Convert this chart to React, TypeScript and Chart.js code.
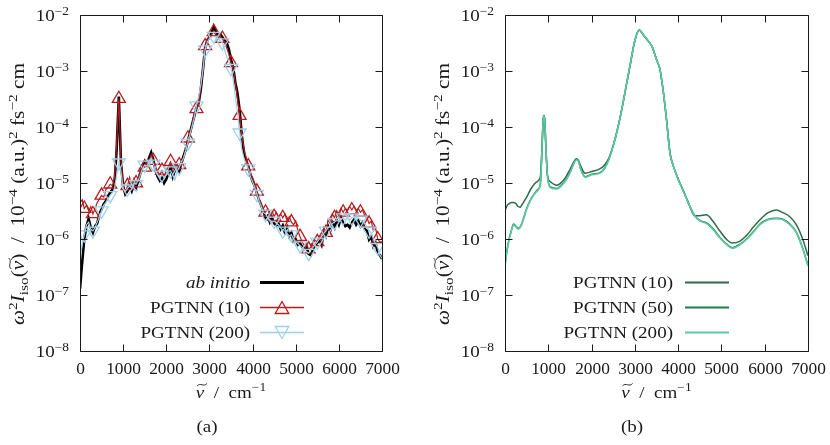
import React, { useEffect, useRef } from "react";
import { Chart, registerables } from "chart.js";

Chart.register(...registerables);

const FONT = '"Liberation Serif", "DejaVu Serif", serif';
const TEXT = "#1a1a1a";
const RED = "#b71c1c";
const BLUE = "#9fd0e8";
const G10 = "#2d6b4a";
const G50 = "#237a4c";
const G200 = "#5ccaa2";

// ---------- data: panel (a) ----------
const LX = [
  0, 50, 100, 150, 200, 250, 300, 350, 400, 450,
  500, 550, 600, 650, 700, 750, 800, 850, 900, 950,
  1000, 1050, 1100, 1150, 1200, 1250, 1300, 1350, 1400, 1450,
  1500, 1550, 1600, 1650, 1700, 1750, 1800, 1850, 1900, 1950,
  2000, 2050, 2100, 2150, 2200, 2250, 2300, 2350, 2400, 2450,
  2500, 2550, 2600, 2650, 2700, 2750, 2800, 2850, 2900, 2950,
  3000, 3050, 3100, 3150, 3200, 3250, 3300, 3350, 3400, 3450,
  3500, 3550, 3600, 3650, 3700, 3750, 3800, 3850, 3900, 3950,
  4000, 4050, 4100, 4150, 4200, 4250, 4300, 4350, 4400, 4450,
  4500, 4550, 4600, 4650, 4700, 4750, 4800, 4850, 4900, 4950,
  5000, 5050, 5100, 5150, 5200, 5250, 5300, 5350, 5400, 5450,
  5500, 5550, 5600, 5650, 5700, 5750, 5800, 5850, 5900, 5950,
  6000, 6050, 6100, 6150, 6200, 6250, 6300, 6350, 6400, 6450,
  6500, 6550, 6600, 6650, 6700, 6750, 6800, 6850, 6900, 6950,
  7000,
];

const AB_INITIO = [
  1.3e-7, 3.8e-7, 1.0e-6, 1.7e-6, 2.3e-6, 1.6e-6, 1.3e-6, 1.7e-6, 1.9e-6, 2.8e-6,
  3.4e-6, 4.2e-6, 4.8e-6, 5.9e-6, 6.8e-6, 7.6e-6, 1.0e-5, 4.0e-5, 3.5e-4, 2.3e-5,
  8.7e-6, 6.3e-6, 7.2e-6, 8.9e-6, 7.2e-6, 9.5e-6, 8.3e-6, 1.1e-5, 1.5e-5, 2.0e-5,
  2.45e-5, 2.1e-5, 2.8e-5, 3.5e-5, 2.6e-5, 1.7e-5, 1.3e-5, 1.1e-5, 1.26e-5, 1.0e-5,
  1.17e-5, 1.5e-5, 1.9e-5, 1.3e-5, 1.7e-5, 2.0e-5, 1.6e-5, 2.3e-5, 3.0e-5, 4.0e-5,
  5.6e-5, 7.9e-5, 1.12e-4, 1.6e-4, 2.2e-4, 2.7e-4, 4.7e-4, 1.07e-3, 2.6e-3, 3.5e-3,
  4.0e-3, 4.8e-3, 6.2e-3, 5.1e-3, 4.4e-3, 4.6e-3, 4.0e-3, 3.5e-3, 3.2e-3, 2.45e-3,
  1.6e-3, 1.15e-3, 6.3e-4, 4.0e-4, 2.0e-4, 7.1e-5, 3.5e-5, 2.5e-5, 2.0e-5, 1.4e-5,
  1.07e-5, 8.9e-6, 6.6e-6, 5.0e-6, 4.0e-6, 3.2e-6, 2.4e-6, 2.6e-6, 2.0e-6, 2.4e-6,
  1.9e-6, 1.74e-6, 1.9e-6, 1.5e-6, 1.74e-6, 1.3e-6, 1.6e-6, 1.12e-6, 1.3e-6, 9.1e-7,
  9.8e-7, 7.9e-7, 8.5e-7, 7.2e-7, 6.6e-7, 7.1e-7, 5.4e-7, 5.1e-7, 6.6e-7, 7.8e-7,
  8.5e-7, 9.8e-7, 7.9e-7, 1.3e-6, 1.12e-6, 1.7e-6, 1.4e-6, 1.95e-6, 1.6e-6, 2.2e-6,
  1.8e-6, 2.4e-6, 1.95e-6, 1.7e-6, 1.8e-6, 1.6e-6, 1.95e-6, 2.2e-6, 1.8e-6, 2.1e-6,
  1.7e-6, 1.95e-6, 1.5e-6, 1.4e-6, 9.8e-7, 1.12e-6, 7.4e-7, 8.5e-7, 5.8e-7, 5.2e-7,
  4.4e-7,
];

const PGTNN_10 = [
  4.5e-6, 5.0e-6, 3.5e-6, 4.0e-6, 3.2e-6, 3.8e-6, 2.8e-6, 3.5e-6, 4.5e-6, 5.2e-6,
  6.0e-6, 5.6e-6, 7.6e-6, 8.3e-6, 9.5e-6, 8.9e-6, 1.26e-5, 5.0e-5, 3.2e-4, 2.5e-5,
  8.9e-6, 6.6e-6, 8.9e-6, 1.26e-5, 8.3e-6, 1.2e-5, 1.0e-5, 1.3e-5, 1.66e-5, 2.1e-5,
  1.9e-5, 2.5e-5, 2.4e-5, 3.2e-5, 2.5e-5, 2.0e-5, 1.6e-5, 1.4e-5, 1.66e-5, 1.3e-5,
  1.66e-5, 2.0e-5, 2.4e-5, 1.9e-5, 2.2e-5, 1.8e-5, 2.1e-5, 2.0e-5, 2.8e-5, 4.0e-5,
  6.3e-5, 7.1e-5, 1.12e-4, 1.8e-4, 2.1e-4, 2.5e-4, 5.0e-4, 1.12e-3, 2.8e-3, 3.8e-3,
  4.0e-3, 4.5e-3, 5.0e-3, 4.4e-3, 4.2e-3, 4.0e-3, 3.8e-3, 3.2e-3, 2.6e-3, 2.0e-3,
  1.4e-3, 1.05e-3, 6.3e-4, 3.2e-4, 1.6e-4, 7.1e-5, 4.2e-5, 2.8e-5, 2.0e-5, 1.5e-5,
  1.26e-5, 1.0e-5, 7.1e-6, 5.2e-6, 4.2e-6, 3.3e-6, 3.0e-6, 3.5e-6, 2.6e-6, 3.2e-6,
  2.5e-6, 3.0e-6, 2.4e-6, 2.8e-6, 2.4e-6, 2.8e-6, 2.1e-6, 2.5e-6, 2.0e-6, 1.8e-6,
  2.1e-6, 1.4e-6, 1.1e-6, 8.9e-7, 7.6e-7, 8.3e-7, 6.6e-7, 7.1e-7, 8.3e-7, 9.5e-7,
  8.9e-7, 1.12e-6, 1.0e-6, 1.6e-6, 1.3e-6, 2.2e-6, 1.9e-6, 2.8e-6, 2.4e-6, 3.2e-6,
  2.6e-6, 3.5e-6, 3.0e-6, 3.5e-6, 3.2e-6, 3.8e-6, 3.3e-6, 3.8e-6, 3.2e-6, 3.5e-6,
  3.0e-6, 3.3e-6, 2.6e-6, 2.4e-6, 1.9e-6, 2.1e-6, 1.4e-6, 1.6e-6, 1.0e-6, 8.9e-7,
  8.9e-7,
];

const PGTNN_200 = [
  4.5e-7, 7.9e-7, 1.2e-6, 1.8e-6, 2.0e-6, 1.5e-6, 1.4e-6, 1.6e-6, 2.0e-6, 2.5e-6,
  3.2e-6, 4.0e-6, 4.5e-6, 5.2e-6, 6.0e-6, 6.6e-6, 7.9e-6, 1.4e-5, 2.3e-5, 1.6e-5,
  7.9e-6, 7.1e-6, 7.9e-6, 8.9e-6, 7.9e-6, 1.0e-5, 9.5e-6, 1.12e-5, 1.4e-5, 1.8e-5,
  2.1e-5, 2.0e-5, 2.4e-5, 2.8e-5, 2.2e-5, 1.66e-5, 1.4e-5, 1.2e-5, 1.4e-5, 1.26e-5,
  1.4e-5, 1.6e-5, 1.66e-5, 1.4e-5, 1.12e-5, 1.6e-5, 1.9e-5, 2.4e-5, 2.8e-5, 3.8e-5,
  5.2e-5, 7.6e-5, 1.05e-4, 1.5e-4, 2.4e-4, 3.5e-4, 5.6e-4, 1.05e-3, 2.4e-3, 3.3e-3,
  3.8e-3, 4.0e-3, 4.2e-3, 4.0e-3, 3.8e-3, 3.5e-3, 3.2e-3, 2.4e-3, 1.8e-3, 1.5e-3,
  1.12e-3, 7.1e-4, 3.5e-4, 1.8e-4, 7.9e-5, 4.0e-5, 2.8e-5, 2.2e-5, 1.8e-5, 1.3e-5,
  1.05e-5, 8.3e-6, 6.3e-6, 4.8e-6, 3.8e-6, 3.0e-6, 2.8e-6, 2.4e-6, 2.2e-6, 2.0e-6,
  2.1e-6, 1.9e-6, 1.8e-6, 1.6e-6, 1.4e-6, 1.6e-6, 1.26e-6, 1.12e-6, 1.2e-6, 1.0e-6,
  8.9e-7, 8.3e-7, 7.6e-7, 7.1e-7, 6.3e-7, 6.0e-7, 5.6e-7, 6.3e-7, 7.1e-7, 7.9e-7,
  8.9e-7, 1.0e-6, 1.12e-6, 1.26e-6, 1.4e-6, 1.6e-6, 1.66e-6, 1.9e-6, 2.0e-6, 2.2e-6,
  2.1e-6, 2.2e-6, 2.4e-6, 2.2e-6, 2.4e-6, 2.2e-6, 2.4e-6, 2.5e-6, 2.2e-6, 2.4e-6,
  2.2e-6, 2.0e-6, 1.9e-6, 1.66e-6, 1.4e-6, 1.26e-6, 1.0e-6, 8.3e-7, 7.1e-7, 5.2e-7,
  4.5e-7,
];

// ---------- data: panel (b) ----------
const RX = [
  0, 50, 100, 150, 200, 250, 300, 350, 400, 500,
  600, 700, 780, 820, 860, 880, 900, 920, 940, 980,
  1050, 1200, 1300, 1400, 1500, 1600, 1650, 1700, 1750, 1850,
  2000, 2200, 2300, 2400, 2500, 2600, 2700, 2800, 2900, 3000,
  3100, 3200, 3300, 3400, 3500, 3580, 3650, 3730, 3810, 3890,
  4000, 4120, 4230, 4380, 4500, 4650, 4800, 4960, 5120, 5250,
  5420, 5580, 5730, 5890, 6080, 6270, 6420, 6580, 6730, 6880,
  7000,
];

const R_PGTNN_10 = [
  3.2e-6, 4.0e-6, 4.3e-6, 4.5e-6, 4.5e-6, 4.3e-6, 3.8e-6, 3.7e-6, 4.2e-6, 5.6e-6,
  7.9e-6, 1.0e-5, 1.12e-5, 1.35e-5, 5.4e-5, 1.3e-4, 1.62e-4, 1.3e-4, 5.4e-5, 1.4e-5,
  1.05e-5, 9.1e-6, 1.02e-5, 1.26e-5, 1.74e-5, 2.45e-5, 2.7e-5, 2.5e-5, 2.0e-5, 1.5e-5,
  1.6e-5, 1.8e-5, 2.1e-5, 2.8e-5, 4.7e-5, 9.2e-5, 2.1e-4, 5.4e-4, 1.4e-3, 3.5e-3,
  5.4e-3, 4.4e-3, 3.5e-3, 2.7e-3, 1.6e-3, 1.07e-3, 4.7e-4, 1.4e-4, 3.5e-5, 2.0e-5,
  1.18e-5, 7.3e-6, 4.6e-6, 2.6e-6, 2.6e-6, 2.7e-6, 2.1e-6, 1.4e-6, 9.8e-7, 8.5e-7,
  9.1e-7, 1.15e-6, 1.6e-6, 2.2e-6, 2.95e-6, 3.3e-6, 2.95e-6, 2.5e-6, 1.8e-6, 9.8e-7,
  5.0e-7,
];

const R_PGTNN_50 = [
  3.5e-7, 6.6e-7, 1.05e-6, 1.45e-6, 1.85e-6, 1.7e-6, 1.55e-6, 1.65e-6, 2.0e-6, 3.5e-6,
  5.2e-6, 6.8e-6, 8.0e-6, 1.02e-5, 5.3e-5, 1.28e-4, 1.61e-4, 1.28e-4, 5.3e-5, 1.37e-5,
  8.5e-6, 8.0e-6, 9.1e-6, 1.12e-5, 1.53e-5, 2.35e-5, 2.65e-5, 2.45e-5, 1.78e-5, 1.29e-5,
  1.43e-5, 1.53e-5, 1.84e-5, 2.65e-5, 4.6e-5, 9.1e-5, 2.1e-4, 5.4e-4, 1.4e-3, 3.5e-3,
  5.4e-3, 4.4e-3, 3.5e-3, 2.7e-3, 1.6e-3, 1.07e-3, 4.7e-4, 1.4e-4, 3.5e-5, 2.0e-5,
  1.17e-5, 7.2e-6, 4.5e-6, 2.65e-6, 2.15e-6, 1.95e-6, 1.55e-6, 1.08e-6, 8.1e-7, 7.0e-7,
  8.0e-7, 1.0e-6, 1.33e-6, 1.85e-6, 2.25e-6, 2.35e-6, 2.25e-6, 1.85e-6, 1.33e-6, 6.8e-7,
  3.4e-7,
];

const R_PGTNN_200 = [
  3.3e-7, 6.3e-7, 1.0e-6, 1.4e-6, 1.8e-6, 1.66e-6, 1.5e-6, 1.6e-6, 1.95e-6, 3.4e-6,
  5.1e-6, 6.6e-6, 7.8e-6, 1.0e-5, 5.2e-5, 1.26e-4, 1.6e-4, 1.26e-4, 5.2e-5, 1.35e-5,
  8.3e-6, 7.8e-6, 8.9e-6, 1.1e-5, 1.5e-5, 2.3e-5, 2.6e-5, 2.4e-5, 1.74e-5, 1.26e-5,
  1.4e-5, 1.5e-5, 1.8e-5, 2.6e-5, 4.6e-5, 9.1e-5, 2.1e-4, 5.4e-4, 1.4e-3, 3.5e-3,
  5.4e-3, 4.4e-3, 3.5e-3, 2.7e-3, 1.6e-3, 1.07e-3, 4.7e-4, 1.4e-4, 3.5e-5, 2.0e-5,
  1.17e-5, 7.2e-6, 4.5e-6, 2.6e-6, 2.1e-6, 1.9e-6, 1.5e-6, 1.05e-6, 7.9e-7, 6.8e-7,
  7.8e-7, 9.8e-7, 1.3e-6, 1.8e-6, 2.2e-6, 2.3e-6, 2.2e-6, 1.8e-6, 1.3e-6, 6.6e-7,
  3.3e-7,
];

// ---------- axes ----------
const X_MIN = 0;
const X_MAX = 7000;
const X_STEP = 1000;
const Y_DECADES = [-8, -7, -6, -5, -4, -3, -2];

// ---------- rich text ----------
const BASE = 17;
const SUP = 12;
const STRETCH = 1.12;

type Seg = { t: string; it?: boolean; sz?: number; dy?: number; tilde?: boolean };

function segFont(s: Seg, base: number) {
  return `${s.it ? "italic " : ""}${s.sz ?? base}px ${FONT}`;
}

function richWidth(ctx: CanvasRenderingContext2D, segs: Seg[], base: number, sx: number) {
  let w = 0;
  for (const s of segs) {
    ctx.font = segFont(s, base);
    w += ctx.measureText(s.t).width * sx;
  }
  return w;
}

function drawRich(
  ctx: CanvasRenderingContext2D,
  segs: Seg[],
  x: number,
  y: number,
  align: "left" | "center" | "right",
  sx = STRETCH,
  base = BASE
) {
  const w = richWidth(ctx, segs, base, sx);
  let cx = align === "center" ? x - w / 2 : align === "right" ? x - w : x;
  ctx.textAlign = "left";
  ctx.textBaseline = "alphabetic";
  for (const s of segs) {
    ctx.font = segFont(s, base);
    const sw = ctx.measureText(s.t).width * sx;
    ctx.save();
    ctx.translate(cx, y + (s.dy ?? 0));
    ctx.scale(sx, 1);
    ctx.fillText(s.t, 0, 0);
    ctx.restore();
    if (s.tilde) {
      const x0 = cx + 1.2;
      const x1 = cx + sw + 2.8;
      const yT = y - base * 0.78;
      ctx.beginPath();
      ctx.moveTo(x0, yT + 1.3);
      ctx.bezierCurveTo(x0 + (x1 - x0) / 3, yT - 2.8, x0 + (2 * (x1 - x0)) / 3, yT + 2.8, x1, yT - 1.3);
      ctx.lineWidth = 0.9;
      ctx.stroke();
    }
    cx += sw;
  }
}

const Y_TITLE: Seg[] = [
  { t: "ω", it: true },
  { t: "2", sz: 13, dy: -7.5 },
  { t: "I", it: true },
  { t: "iso", sz: 13, dy: 3.5 },
  { t: "(" },
  { t: "ν", it: true, tilde: true },
  { t: ")" },
  { t: "  /  10" },
  { t: "−4", sz: 13, dy: -7.5 },
  { t: " (a.u.)" },
  { t: "2", sz: 13, dy: -7.5 },
  { t: " fs" },
  { t: "−2", sz: 13, dy: -7.5 },
  { t: " cm" },
];

const X_TITLE: Seg[] = [
  { t: "ν", it: true, tilde: true },
  { t: "  /  cm" },
  { t: "−1", sz: SUP, dy: -7 },
];

type LegendEntry = {
  label: Seg[];
  color: string;
  width: number;
  marker?: "up" | "down";
};

type PanelCfg = {
  left: number;
  areaLeft: number;
  padRight: number;
  titleBaselineX: number;
  legendTextRight: number;
  legendX0: number;
  legendX1: number;
  legend: LegendEntry[];
  caption: string;
  captionX: number;
  datasets: any[];
};

const toPts = (xs: number[], ys: number[]) => xs.map((x, i) => ({ x, y: ys[i] }));

function makeDecor(cfg: PanelCfg) {
  return {
    id: "decor",
    afterDraw(chart: any) {
      const ctx: CanvasRenderingContext2D = chart.ctx;
      const a = chart.chartArea;
      const xs = chart.scales.x;
      const ys = chart.scales.y;
      ctx.save();
      ctx.strokeStyle = TEXT;
      ctx.fillStyle = TEXT;
      ctx.lineWidth = 1;

      const L = Math.round(a.left) + 0.5;
      const R = Math.round(a.right) + 0.5;
      const T = Math.round(a.top) + 0.5;
      const B = Math.round(a.bottom) + 0.5;
      ctx.beginPath();
      ctx.rect(L, T, R - L, B - T);
      ctx.stroke();

      const TL = 7;
      for (const t of xs.ticks) {
        const px = Math.round(xs.getPixelForValue(t.value)) + 0.5;
        ctx.beginPath();
        ctx.moveTo(px, B);
        ctx.lineTo(px, B - TL);
        ctx.moveTo(px, T);
        ctx.lineTo(px, T + TL);
        ctx.lineWidth = 1;
        ctx.strokeStyle = TEXT;
        ctx.stroke();
        drawRich(ctx, [{ t: String(t.value) }], px, a.bottom + 23, "center", 1.02);
      }
      for (const t of ys.ticks) {
        const py = Math.round(ys.getPixelForValue(t.value)) + 0.5;
        ctx.beginPath();
        ctx.moveTo(L, py);
        ctx.lineTo(L + TL, py);
        ctx.moveTo(R, py);
        ctx.lineTo(R - TL, py);
        ctx.lineWidth = 1;
        ctx.strokeStyle = TEXT;
        ctx.stroke();
        const e = Math.round(Math.log10(t.value));
        drawRich(
          ctx,
          [{ t: "10" }, { t: "−" + Math.abs(e), sz: SUP, dy: -6.5 }],
          a.left - 11,
          py + 5.5,
          "right",
          1.12
        );
      }

      ctx.save();
      ctx.translate(cfg.titleBaselineX, 194);
      ctx.rotate(-Math.PI / 2);
      ctx.strokeStyle = TEXT;
      drawRich(ctx, Y_TITLE, 0, 0, "center", 1.18, 18);
      ctx.restore();

      ctx.strokeStyle = TEXT;
      drawRich(ctx, X_TITLE, (a.left + a.right) / 2, 398, "center");

      drawRich(ctx, [{ t: cfg.caption }], cfg.captionX, 432, "center");

      cfg.legend.forEach((en, i) => {
        const rowY = 282 + i * 25;
        ctx.fillStyle = TEXT;
        ctx.strokeStyle = TEXT;
        drawRich(ctx, en.label, cfg.legendTextRight, rowY + 6, "right");
        ctx.beginPath();
        ctx.moveTo(cfg.legendX0, rowY + 0.5);
        ctx.lineTo(cfg.legendX1, rowY + 0.5);
        ctx.strokeStyle = en.color;
        ctx.lineWidth = en.width;
        ctx.stroke();
        if (en.marker) {
          const cx = (cfg.legendX0 + cfg.legendX1) / 2;
          const cy = rowY + 0.5;
          const hw = 6.8;
          const hh = 6;
          ctx.beginPath();
          if (en.marker === "up") {
            ctx.moveTo(cx, cy - hh);
            ctx.lineTo(cx + hw, cy + hh);
            ctx.lineTo(cx - hw, cy + hh);
          } else {
            ctx.moveTo(cx, cy + hh);
            ctx.lineTo(cx + hw, cy - hh);
            ctx.lineTo(cx - hw, cy - hh);
          }
          ctx.closePath();
          ctx.lineWidth = 1.3;
          ctx.stroke();
        }
      });
      ctx.restore();
    },
  };
}

const markerEvery = (offset: number, r: number) => (c: any) => (c.dataIndex % 4 === offset ? r : 0);

const PANEL_A: PanelCfg = {
  left: 0,
  areaLeft: 80,
  padRight: 33,
  titleBaselineX: 24,
  legendTextRight: 250,
  legendX0: 260,
  legendX1: 304,
  caption: "(a)",
  captionX: 207,
  legend: [
    { label: [{ t: "ab initio", it: true }], color: "#000000", width: 3 },
    { label: [{ t: "PGTNN (10)" }], color: RED, width: 1.3, marker: "up" },
    { label: [{ t: "PGTNN (200)" }], color: BLUE, width: 1.3, marker: "down" },
  ],
  datasets: [
    {
      label: "ab initio",
      data: toPts(LX, AB_INITIO),
      borderColor: "#000000",
      borderWidth: 2.6,
      pointRadius: 0,
      tension: 0,
      order: 3,
    },
    {
      label: "PGTNN (10)",
      data: toPts(LX, PGTNN_10),
      borderColor: RED,
      borderWidth: 1.2,
      pointStyle: "triangle",
      pointRadius: markerEvery(2, 7.5),
      pointBorderColor: RED,
      pointBackgroundColor: "rgba(0,0,0,0)",
      pointBorderWidth: 1.3,
      tension: 0,
      order: 2,
    },
    {
      label: "PGTNN (200)",
      data: toPts(LX, PGTNN_200),
      borderColor: BLUE,
      borderWidth: 1.2,
      pointStyle: "triangle",
      pointRotation: 180,
      pointRadius: markerEvery(2, 7.5),
      pointBorderColor: BLUE,
      pointBackgroundColor: "rgba(0,0,0,0)",
      pointBorderWidth: 1.3,
      tension: 0,
      order: 1,
    },
  ],
};

const PANEL_B: PanelCfg = {
  left: 415,
  areaLeft: 90,
  padRight: 22,
  titleBaselineX: 34,
  legendTextRight: 258,
  legendX0: 270,
  legendX1: 314,
  caption: "(b)",
  captionX: 217,
  legend: [
    { label: [{ t: "PGTNN (10)" }], color: G10, width: 1.8 },
    { label: [{ t: "PGTNN (50)" }], color: G50, width: 1.8 },
    { label: [{ t: "PGTNN (200)" }], color: G200, width: 1.8 },
  ],
  datasets: [
    {
      label: "PGTNN (10)",
      data: toPts(RX, R_PGTNN_10),
      borderColor: G10,
      borderWidth: 1.5,
      pointRadius: 0,
      cubicInterpolationMode: "monotone",
      order: 3,
    },
    {
      label: "PGTNN (50)",
      data: toPts(RX, R_PGTNN_50),
      borderColor: G50,
      borderWidth: 1.5,
      pointRadius: 0,
      cubicInterpolationMode: "monotone",
      order: 2,
    },
    {
      label: "PGTNN (200)",
      data: toPts(RX, R_PGTNN_200),
      borderColor: G200,
      borderWidth: 1.6,
      pointRadius: 0,
      cubicInterpolationMode: "monotone",
      order: 1,
    },
  ],
};

function Panel({ cfg }: { cfg: PanelCfg }) {
  const ref = useRef<HTMLCanvasElement>(null);
  useEffect(() => {
    const canvas = ref.current;
    if (!canvas) return;
    const chart = new Chart(canvas, {
      type: "line",
      data: { datasets: cfg.datasets },
      options: {
        animation: false,
        responsive: false,
        devicePixelRatio: 1,
        events: [],
        layout: { padding: { left: 0, right: cfg.padRight, top: 15, bottom: 0 } },
        plugins: { legend: { display: false }, tooltip: { enabled: false }, title: { display: false } },
        scales: {
          x: {
            type: "linear",
            min: X_MIN,
            max: X_MAX,
            ticks: { display: false, stepSize: X_STEP },
            grid: { display: false },
            border: { display: false },
            afterFit: (s: any) => {
              s.height = 94;
            },
          },
          y: {
            type: "logarithmic",
            min: Math.pow(10, Y_DECADES[0]),
            max: Math.pow(10, Y_DECADES[Y_DECADES.length - 1]),
            ticks: { display: false },
            grid: { display: false },
            border: { display: false },
            afterBuildTicks: (s: any) => {
              s.ticks = Y_DECADES.map((e) => ({ value: Math.pow(10, e) }));
            },
            afterFit: (s: any) => {
              s.width = cfg.areaLeft;
            },
          },
        },
      } as any,
      plugins: [makeDecor(cfg)],
    });
    return () => chart.destroy();
  }, [cfg]);
  return (
    <canvas
      ref={ref}
      width={415}
      height={445}
      style={{ position: "absolute", left: cfg.left, top: 0, width: 415, height: 445 }}
    />
  );
}

export default function App() {
  return (
    <div style={{ position: "fixed", left: 0, top: 0, width: 830, height: 445, background: "#ffffff", overflow: "hidden" }}>
      <Panel cfg={PANEL_A} />
      <Panel cfg={PANEL_B} />
    </div>
  );
}
